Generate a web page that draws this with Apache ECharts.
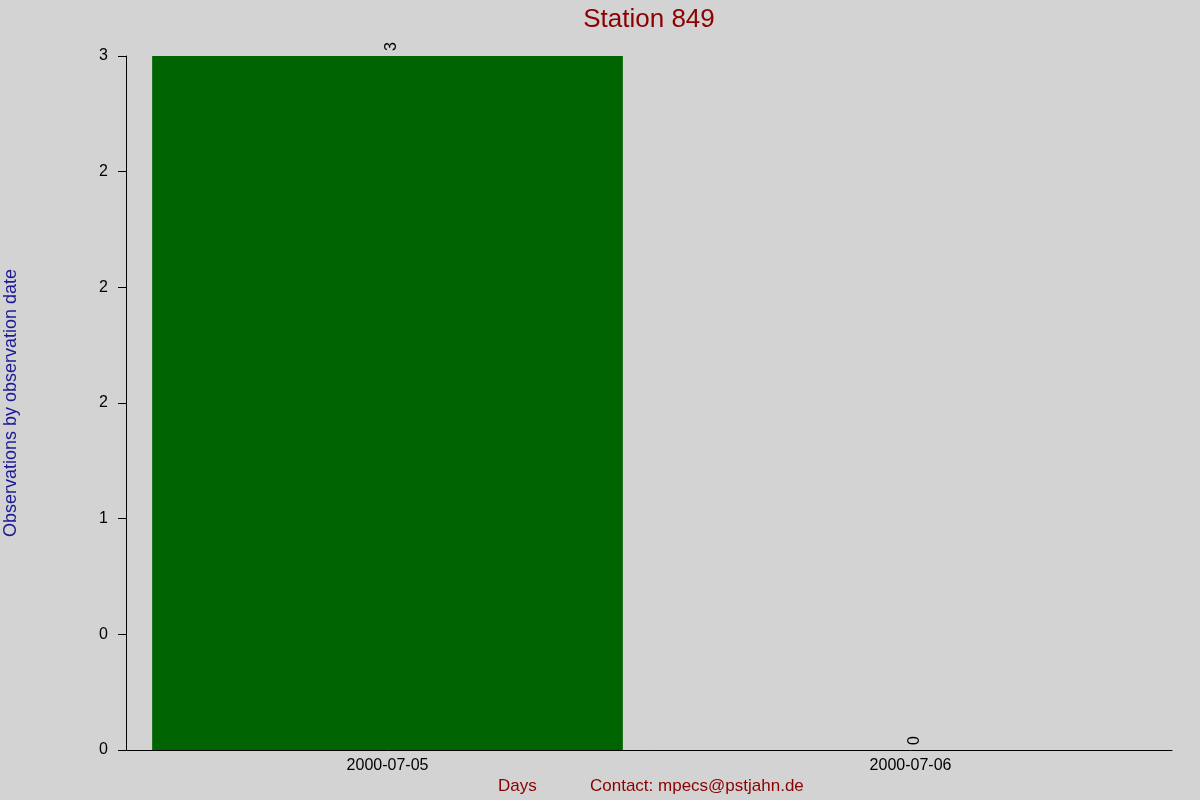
<!DOCTYPE html>
<html>
<head>
<meta charset="utf-8">
<script src="https://cdn.jsdelivr.net/npm/echarts@6/dist/echarts.min.js"></script>
<style>
html,body{margin:0;padding:0;background:#d3d3d3;}
#chart{width:1200px;height:800px;}
</style>
</head>
<body>
<div id="chart"></div>
<script>
const categories = ['2000-07-05', '2000-07-06'];
const observations = [3, 0];
const yTickValues = [0, 0.5, 1, 1.5, 2, 2.5, 3];
const yTickLabels = ['0', '0', '1', '2', '2', '2', '3'];

const chart = echarts.init(document.getElementById('chart'));
const font = 'Liberation Sans, Arial, sans-serif';
chart.setOption({
  backgroundColor: '#d3d3d3',
  animation: false,
  title: {
    text: 'Station 849',
    left: 644,
    top: 2,
    textAlign: 'center',
    textStyle: { color: '#8b0000', fontSize: 26, fontWeight: 'normal', fontFamily: font }
  },
  grid: { left: 126, right: 28, top: 56, bottom: 50, containLabel: false, outerBoundsMode: 'none' },
  xAxis: {
    type: 'category',
    data: categories,
    axisLine: { lineStyle: { color: '#000', width: 1 } },
    axisTick: { show: false },
    axisLabel: { color: '#000', fontSize: 16, fontFamily: font, margin: 8 },
    splitLine: { show: false }
  },
  yAxis: {
    type: 'value',
    min: 0,
    max: 3,
    interval: 0.5,
    name: 'Observations by observation date',
    nameLocation: 'middle',
    nameGap: 106,
    nameTextStyle: { color: '#1a1a96', fontSize: 18, fontFamily: font },
    axisLine: { show: true, lineStyle: { color: '#000', width: 1 } },
    axisTick: { show: true, length: 8, lineStyle: { color: '#000' } },
    axisLabel: {
      color: '#000', fontSize: 16, fontFamily: font, margin: 18,
      formatter: function (v) {
        const i = yTickValues.indexOf(v);
        return i >= 0 ? yTickLabels[i] : '';
      }
    },
    splitLine: { show: false }
  },
  series: [{
    type: 'bar',
    data: observations,
    barWidth: '90%',
    itemStyle: { color: '#006400' },
    label: {
      show: true,
      position: 'top',
      rotate: 90,
      align: 'left',
      verticalAlign: 'middle',
      distance: 5,
      offset: [0, 4],
      color: '#000',
      fontSize: 16,
      fontFamily: font
    }
  }],
  graphic: [
    { type: 'text', left: 498, top: 778, style: { text: 'Days', fill: '#8b0000', fontSize: 17, fontFamily: font } },
    { type: 'text', left: 590, top: 778, style: { text: 'Contact: mpecs@pstjahn.de', fill: '#8b0000', fontSize: 17, fontFamily: font } }
  ]
});
</script>
</body>
</html>
